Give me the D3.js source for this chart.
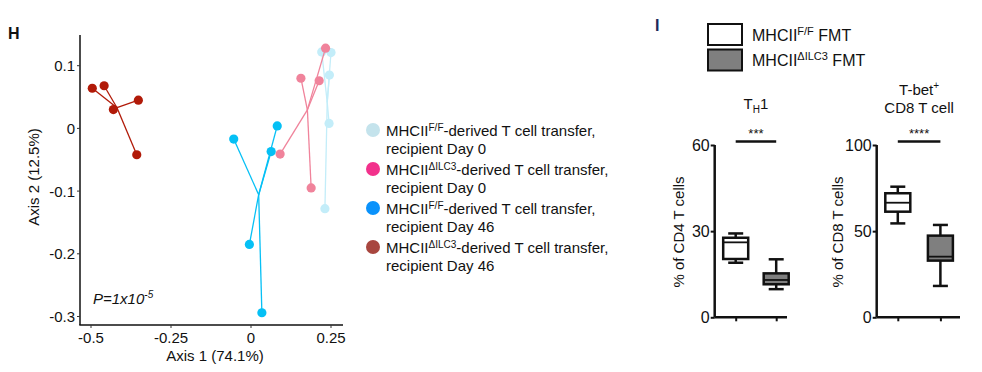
<!DOCTYPE html>
<html>
<head>
<meta charset="utf-8">
<script src="https://cdn.jsdelivr.net/npm/d3@7"></script>
<style>
  body { margin: 0; background: #fff; }
  text { font-family: "Liberation Sans", Arial, sans-serif; fill: #111; }
</style>
</head>
<body>
<div class="chart"></div>
<script>
// ---- panel H: PCoA ----
const groupNames = ["FF_d0", "dILC3_d0", "FF_d46", "dILC3_d46"];
const plotColors = ["#c3edf9", "#f0839b", "#05c0f5", "#b11a08"];
const legendColors = ["#c4e3ec", "#f2318c", "#0a92fb", "#a8463f"];
const legendSup = ["F/F", "\u0394ILC3", "F/F", "\u0394ILC3"];
const legendDay = ["recipient Day 0", "recipient Day 0", "recipient Day 46", "recipient Day 46"];

const ffD0X = [0.221, 0.250, 0.245, 0.244, 0.231];
const ffD0Y = [0.122, 0.121, 0.085, 0.008, -0.128];
const ilcD0X = [0.233, 0.156, 0.213, 0.091, 0.188];
const ilcD0Y = [0.128, 0.080, 0.076, -0.041, -0.095];
const ffD46X = [-0.054, 0.082, 0.063, -0.005, 0.034];
const ffD46Y = [-0.017, 0.004, -0.037, -0.185, -0.294];
const ilcD46X = [-0.496, -0.459, -0.430, -0.352, -0.357];
const ilcD46Y = [0.064, 0.068, 0.030, 0.045, -0.042];

const pcoaX = [ffD0X, ilcD0X, ffD46X, ilcD46X];
const pcoaY = [ffD0Y, ilcD0Y, ffD46Y, ilcD46Y];
const xTicks = [-0.5, -0.25, 0, 0.25];
const yTicks = [0.1, 0, -0.1, -0.2, -0.3];

// ---- panel I: box plots ----
const boxGroups = ["MHCII F/F FMT", "MHCII dILC3 FMT"];
const boxFills = ["#ffffff", "#7f7f7f"];
// [min, q1, median, q3, max]
const th1Stats = [[19.0, 20.3, 26.1, 27.7, 29.2], [9.8, 11.5, 13.0, 15.3, 20.2]];
const tbetStats = [[54.5, 61.3, 66.5, 72.0, 75.8], [18.2, 32.9, 35.2, 47.4, 53.6]];
const th1Ticks = [0, 30, 60];
const tbetTicks = [0, 50, 100];

const svg = d3.select(".chart").append("svg")
  .attr("width", 982).attr("height", 372);

svg.append("text").attr("x", 8).attr("y", 39)
  .style("font-size", "16px").style("font-weight", "bold").text("H");

const x = d3.scaleLinear().domain([-0.5, 0.25]).range([91, 331]);
const y = d3.scaleLinear().domain([0.1, -0.3]).range([65.7, 316.5]);

const pg = svg.append("g");
pg.append("line").attr("x1", 80).attr("x2", 80).attr("y1", 35).attr("y2", 325)
  .attr("stroke", "#111").attr("stroke-width", 1.5);
pg.append("line").attr("x1", 79.3).attr("x2", 343).attr("y1", 325).attr("y2", 325)
  .attr("stroke", "#111").attr("stroke-width", 1.5);

yTicks.forEach(t => {
  pg.append("line").attr("x1", 77).attr("x2", 80).attr("y1", y(t)).attr("y2", y(t))
    .attr("stroke", "#333").attr("stroke-width", 1);
  pg.append("text").attr("x", 75).attr("y", y(t) + 5.5)
    .attr("text-anchor", "end").style("font-size", "15px").text(t);
});
xTicks.forEach(t => {
  pg.append("line").attr("x1", x(t)).attr("x2", x(t)).attr("y1", 325).attr("y2", 328)
    .attr("stroke", "#333").attr("stroke-width", 1);
  pg.append("text").attr("x", x(t)).attr("y", 343)
    .attr("text-anchor", "middle").style("font-size", "15px").text(t);
});

pg.append("text").attr("x", 215).attr("y", 361).attr("text-anchor", "middle")
  .style("font-size", "15px").text("Axis 1 (74.1%)");
pg.append("text").attr("transform", "translate(39,177) rotate(-90)")
  .attr("text-anchor", "middle").style("font-size", "15px").text("Axis 2  (12.5%)");

const ptxt = pg.append("text").attr("x", 93).attr("y", 304)
  .style("font-size", "15px").style("font-style", "italic");
ptxt.append("tspan").text("P=1x10");
ptxt.append("tspan").attr("dy", -6).style("font-size", "10px").text("-5");

groupNames.forEach((name, gi) => {
  const xs = pcoaX[gi], ys = pcoaY[gi];
  const cx = d3.mean(xs), cy = d3.mean(ys);
  const pts = xs.map((v, i) => ({ x: v, y: ys[i] }));
  const g = pg.append("g").attr("class", name);
  g.selectAll("line").data(pts).enter().append("line")
    .attr("x1", x(cx)).attr("y1", y(cy))
    .attr("x2", d => x(d.x)).attr("y2", d => y(d.y))
    .attr("stroke", plotColors[gi]).attr("stroke-width", 1.3);
  g.selectAll("circle").data(pts).enter().append("circle")
    .attr("cx", d => x(d.x)).attr("cy", d => y(d.y)).attr("r", 4.6)
    .attr("fill", plotColors[gi]);
});

// legend H
const lg = svg.append("g").attr("transform", "translate(373,130)");
groupNames.forEach((name, gi) => {
  const row = lg.append("g").attr("transform", "translate(0," + gi * 39 + ")");
  row.append("circle").attr("r", 7).attr("fill", legendColors[gi]);
  const t1 = row.append("text").attr("x", 13).attr("y", 5.5).style("font-size", "15px");
  t1.append("tspan").text("MHCII");
  t1.append("tspan").attr("dy", -5).style("font-size", "10px").text(legendSup[gi]);
  t1.append("tspan").attr("dy", 5).text("-derived T cell transfer,");
  row.append("text").attr("x", 13).attr("y", 24).style("font-size", "15px").text(legendDay[gi]);
});

// ---- panel I ----
svg.append("text").attr("x", 655).attr("y", 31)
  .style("font-size", "16px").style("font-weight", "bold").style("fill", "#1c2a5a").text("I");

const blg = svg.append("g").attr("transform", "translate(708,24)");
boxGroups.forEach((name, i) => {
  blg.append("rect").attr("x", 0).attr("y", i * 25.5).attr("width", 34).attr("height", 21)
    .attr("fill", boxFills[i]).attr("stroke", "#111").attr("stroke-width", 2);
  const t = blg.append("text").attr("x", 44).attr("y", i * 25.5 + 16.5).style("font-size", "16px");
  t.append("tspan").text("MHCII");
  t.append("tspan").attr("dy", -6).style("font-size", "11px").text(i === 0 ? "F/F" : "\u0394ILC3");
  t.append("tspan").attr("dy", 6).text(" FMT");
});

function drawBoxPanel(opt) {
  const g = svg.append("g");
  const yS = d3.scaleLinear().domain([0, opt.ticks[2]]).range([317.3, 145]);
  const xS = d3.scalePoint().domain([0, 1]).range(opt.centers);

  const yAxis = d3.axisLeft(yS).tickValues(opt.ticks).tickSize(4).tickPadding(1);
  const ya = g.append("g").attr("transform", "translate(" + opt.x0 + ",0)").call(yAxis);
  ya.select(".domain").attr("stroke", "#111").attr("stroke-width", 2.5)
    .attr("d", "M0,145V317.3");
  ya.selectAll(".tick line").attr("stroke", "#111").attr("stroke-width", 2);
  ya.selectAll(".tick text").style("font-size", "16px").style("font-family", "Liberation Sans, Arial, sans-serif").attr("fill", "#111");

  const xAxis = d3.axisBottom(xS).tickSize(4).tickFormat("");
  const xa = g.append("g").attr("transform", "translate(0,317.3)").call(xAxis);
  xa.select(".domain").attr("stroke", "#111").attr("stroke-width", 2.5)
    .attr("d", "M" + opt.x0 + ",0H" + opt.x1);
  xa.selectAll(".tick line").attr("stroke", "#111").attr("stroke-width", 2);

  opt.stats.forEach((s, i) => {
    const cx = xS(i), hw = 12.5, cw = 7.5;
    const bg = g.append("g").attr("stroke", "#111").attr("stroke-width", 2.5);
    bg.append("line").attr("x1", cx).attr("x2", cx).attr("y1", yS(s[4])).attr("y2", yS(s[3]));
    bg.append("line").attr("x1", cx).attr("x2", cx).attr("y1", yS(s[1])).attr("y2", yS(s[0]));
    bg.append("line").attr("x1", cx - cw).attr("x2", cx + cw).attr("y1", yS(s[4])).attr("y2", yS(s[4]));
    bg.append("line").attr("x1", cx - cw).attr("x2", cx + cw).attr("y1", yS(s[0])).attr("y2", yS(s[0]));
    bg.append("rect").attr("x", cx - hw).attr("width", hw * 2)
      .attr("y", yS(s[3])).attr("height", yS(s[1]) - yS(s[3]))
      .attr("fill", boxFills[i]);
    bg.append("line").attr("x1", cx - hw).attr("x2", cx + hw).attr("y1", yS(s[2])).attr("y2", yS(s[2]))
      .attr("stroke-width", 1.8);
  });

  g.append("line").attr("x1", xS(0)).attr("x2", xS(1)).attr("y1", 141.5).attr("y2", 141.5)
    .attr("stroke", "#111").attr("stroke-width", 2.5);
  g.append("text").attr("x", (xS(0) + xS(1)) / 2).attr("y", 138).attr("text-anchor", "middle")
    .style("font-size", "13px").text(opt.stars);

  g.append("text").attr("transform", "translate(" + opt.titleX + ",232) rotate(-90)")
    .attr("text-anchor", "middle").style("font-size", "15px").text(opt.yTitle);

  const mid = (xS(0) + xS(1)) / 2;
  opt.title.forEach((line, k) => {
    const t = g.append("text").attr("x", mid).attr("y", opt.titleY + k * 18)
      .attr("text-anchor", "middle").style("font-size", "15px");
    line.forEach(part => {
      const sp = t.append("tspan").text(part.t);
      if (part.sub) sp.attr("dy", 4).style("font-size", "10px");
      if (part.sup) sp.attr("dy", -6).style("font-size", "10px");
      if (part.back) sp.attr("dy", part.back);
    });
  });
}

drawBoxPanel({
  x0: 714.7, x1: 787, centers: [735.7, 776.2], ticks: th1Ticks, stats: th1Stats,
  stars: "***", yTitle: "% of CD4 T cells", titleX: 684,
  title: [[{ t: "T" }, { t: "H", sub: true }, { t: "1", back: -4 }]], titleY: 109
});
drawBoxPanel({
  x0: 876.7, x1: 960, centers: [897.8, 940.4], ticks: tbetTicks, stats: tbetStats,
  stars: "****", yTitle: "% of CD8 T cells", titleX: 843,
  title: [[{ t: "T-bet" }, { t: "+", sup: true }], [{ t: "CD8 T cell" }]], titleY: 95
});
</script>
</body>
</html>
